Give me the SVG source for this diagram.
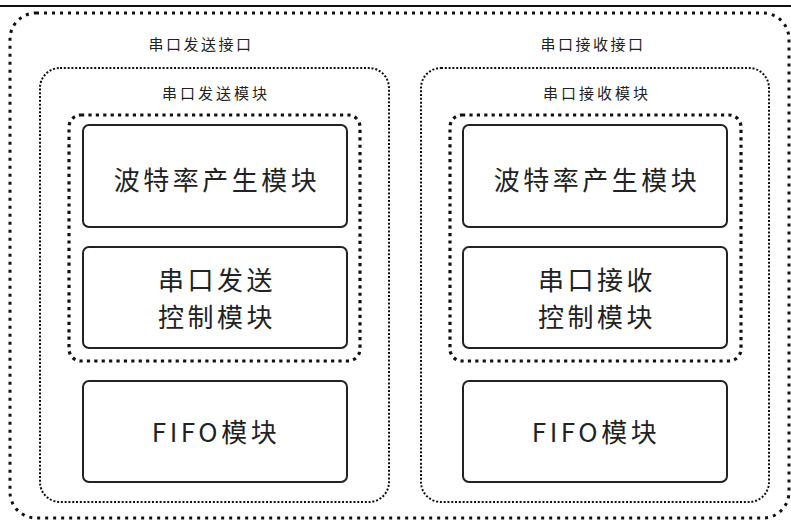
<svg xmlns="http://www.w3.org/2000/svg" width="791" height="521" viewBox="0 0 791 521">
<style>
text{font-family:"Noto Sans CJK SC","Noto Sans",sans-serif;fill:#222;text-anchor:middle;dominant-baseline:central}
.t1{font-size:15px;letter-spacing:2.5px}
.t2{font-size:15px;letter-spacing:3px}
.big{font-size:26px;letter-spacing:3.5px}
.outer{fill:none;stroke:#111;stroke-width:3;stroke-dasharray:3 5}
.panel{fill:none;stroke:#111;stroke-width:2;stroke-dasharray:2 1.8}
.inner{fill:none;stroke:#111;stroke-width:3.2;stroke-dasharray:3.2 4.2}
.box{fill:#fff;stroke:#222;stroke-width:2}
</style>
<line x1="0" y1="6" x2="791" y2="6" stroke="#111" stroke-width="2"/>
<g id="outer">
<rect class="outer" x="10" y="13" width="779" height="505" rx="26"/>
<text class="t1" x="201" y="43">串口发送接口</text>
<text class="t1" x="593" y="43">串口接收接口</text>
</g>
<g id="tx-module">
<rect class="panel" x="40" y="68" width="349" height="434" rx="20"/>
<text class="t2" x="216" y="92">串口发送模块</text>
</g>
<g id="rx-module">
<rect class="panel" x="421" y="68" width="348" height="434" rx="20"/>
<text class="t2" x="597" y="92">串口接收模块</text>
</g>
<g id="tx-core">
<rect class="inner" x="69" y="115" width="291" height="246" rx="12"/>
</g>
<g id="rx-core">
<rect class="inner" x="450" y="115" width="291" height="246" rx="12"/>
</g>
<g id="tx-baud">
<rect class="box" x="83" y="125" width="264" height="102" rx="6"/>
<text class="big" x="217" y="178">波特率产生模块</text>
</g>
<g id="tx-ctrl">
<rect class="box" x="83" y="247" width="264" height="101" rx="6"/>
<text class="big" x="217" y="278">串口发送</text>
<text class="big" x="217" y="315">控制模块</text>
</g>
<g id="tx-fifo">
<rect class="box" x="83" y="381" width="264" height="101" rx="6"/>
<text class="big" x="216" y="430">FIFO模块</text>
</g>
<g id="rx-baud">
<rect class="box" x="463" y="125" width="264" height="102" rx="6"/>
<text class="big" x="597" y="178">波特率产生模块</text>
</g>
<g id="rx-ctrl">
<rect class="box" x="463" y="247" width="264" height="101" rx="6"/>
<text class="big" x="597" y="278">串口接收</text>
<text class="big" x="597" y="315">控制模块</text>
</g>
<g id="rx-fifo">
<rect class="box" x="463" y="381" width="264" height="101" rx="6"/>
<text class="big" x="596" y="430">FIFO模块</text>
</g>
<g id="connectors"></g>
</svg>
